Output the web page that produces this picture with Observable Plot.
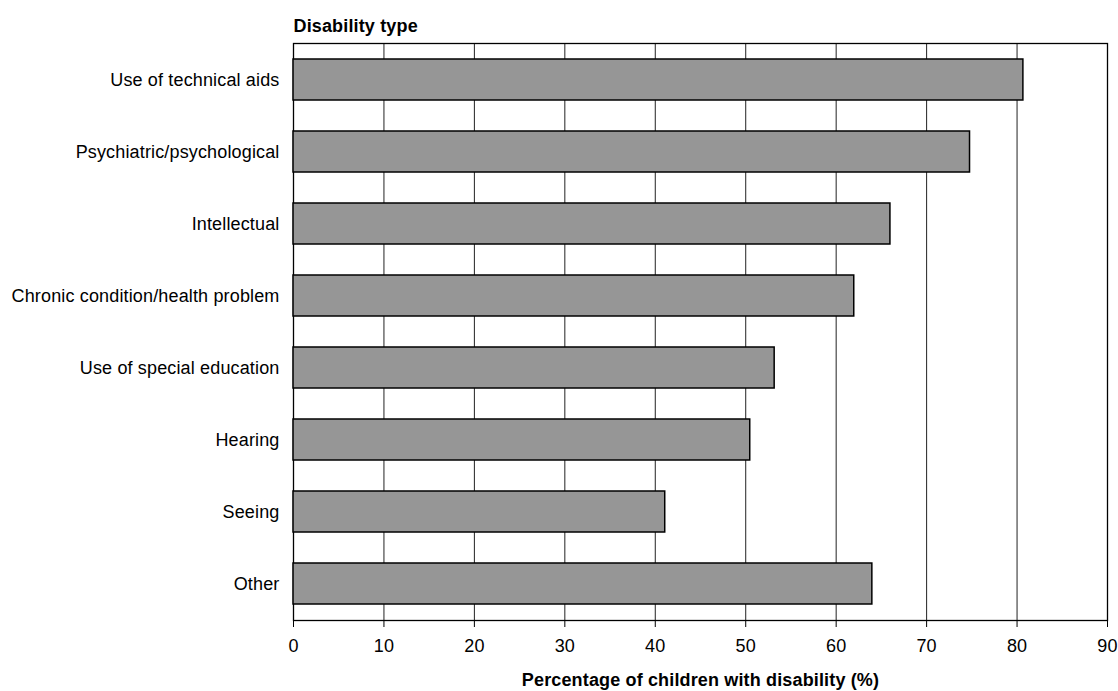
<!DOCTYPE html>
<html>
<head>
<meta charset="utf-8">
<script src="https://cdn.jsdelivr.net/npm/d3@7"></script>
<script src="https://cdn.jsdelivr.net/npm/@observablehq/plot@0.6"></script>
<style>
  html, body { margin: 0; padding: 0; background: #fff; }
  #chart svg { display: block; }
  #chart svg text { letter-spacing: 0.15px; }
</style>
</head>
<body>
<div id="chart"></div>
<script>
const categories = [
  "Use of technical aids",
  "Psychiatric/psychological",
  "Intellectual",
  "Chronic condition/health problem",
  "Use of special education",
  "Hearing",
  "Seeing",
  "Other"
];
const values = [80.7, 74.8, 66.0, 62.0, 53.2, 50.5, 41.1, 64.0];
const xTicks = [0, 10, 20, 30, 40, 50, 60, 70, 80, 90];
const yTitle = "Disability type";
const xTitle = "Percentage of children with disability (%)";

const data = categories.map((c, i) => ({category: c, value: values[i]}));

const chart = Plot.plot({
  width: 1118,
  height: 691,
  marginLeft: 293,
  marginRight: 11,
  marginTop: 43,
  marginBottom: 71,
  style: {fontFamily: "'Liberation Sans', Arial, sans-serif", fontSize: "18px", color: "#000", background: "#fff"},
  x: {domain: [0, 90], ticks: xTicks, label: null},
  y: {domain: categories, paddingInner: 0.43, paddingOuter: 0.215, label: null},
  marks: [
    Plot.ruleX(xTicks, {stroke: "#222", strokeWidth: 1}),
    Plot.frame({stroke: "#000", strokeWidth: 1.3}),
    Plot.barX(data, {y: "category", x: "value", fill: "#969696", stroke: "#000", strokeWidth: 1.5}),
    Plot.axisX({ticks: xTicks, tickSize: 7, tickPadding: 12, fontSize: 18, label: null, stroke: "#000"}),
    Plot.axisY({tickSize: 0, tickPadding: 14, fontSize: 18, label: null}),
    Plot.text([xTitle], {frameAnchor: "bottom", dy: 65, fontWeight: "bold", fontSize: 18}),
    Plot.text([yTitle], {frameAnchor: "top-left", dy: -24, textAnchor: "start", fontWeight: "bold", fontSize: 18})
  ]
});
document.getElementById("chart").append(chart);
</script>
</body>
</html>
